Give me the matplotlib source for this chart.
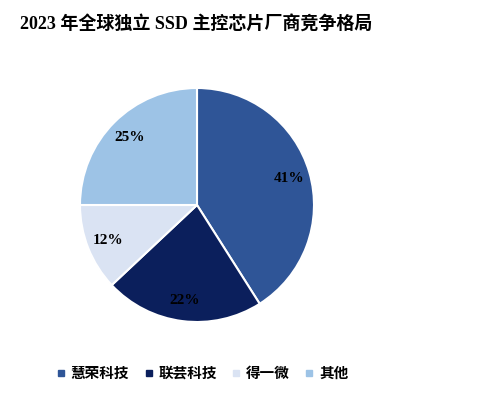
import matplotlib
matplotlib.use("Agg")
import matplotlib.pyplot as plt
from matplotlib.lines import Line2D

categories = ["慧荣科技", "联芸科技", "得一微", "其他"]
shares = [41, 22, 12, 25]
colors = ["#2F5597", "#0B1F5C", "#DAE3F3", "#9DC3E6"]
title = "2023 年全球独立 SSD 主控芯片厂商竞争格局"

plt.rcParams['font.family'] = ['Liberation Serif', 'Noto Sans CJK SC']

fig = plt.figure(figsize=(4.78, 3.97), dpi=100)
fig.text(20/478, 1 - 24/397, title, fontsize=13, fontweight='bold',
         ha='left', va='center', color='black')

ax = fig.add_axes([(197-117)/478, 1-(205+117)/397, 234/478, 234/397])
wedges, texts, autotexts = ax.pie(
    shares, colors=colors, startangle=90, counterclock=False,
    autopct=lambda p: f"{p:.0f}%", pctdistance=0.82,
    wedgeprops=dict(edgecolor='white', linewidth=1.5),
    textprops=dict(fontsize=11, fontweight='bold', color='black'))
for t in autotexts:
    t.set_fontfamily(['Liberation Serif'])
ax.set_xlim(-1.0, 1.0)
ax.set_ylim(-1.0, 1.0)
ax.set_aspect('equal')

handles = [Line2D([0], [0], marker='s', linestyle='none', markersize=5,
                  markerfacecolor=c, markeredgecolor=c) for c in colors]
fig.legend(handles, categories, loc='center', bbox_to_anchor=(201/478, 1-373/397),
           ncol=4, frameon=False, handletextpad=0.15, columnspacing=0.85,
           handlelength=1.0,
           prop=dict(family=['Noto Sans CJK SC'], weight='bold', size=10.5))

fig.savefig("out.png", dpi=100)
